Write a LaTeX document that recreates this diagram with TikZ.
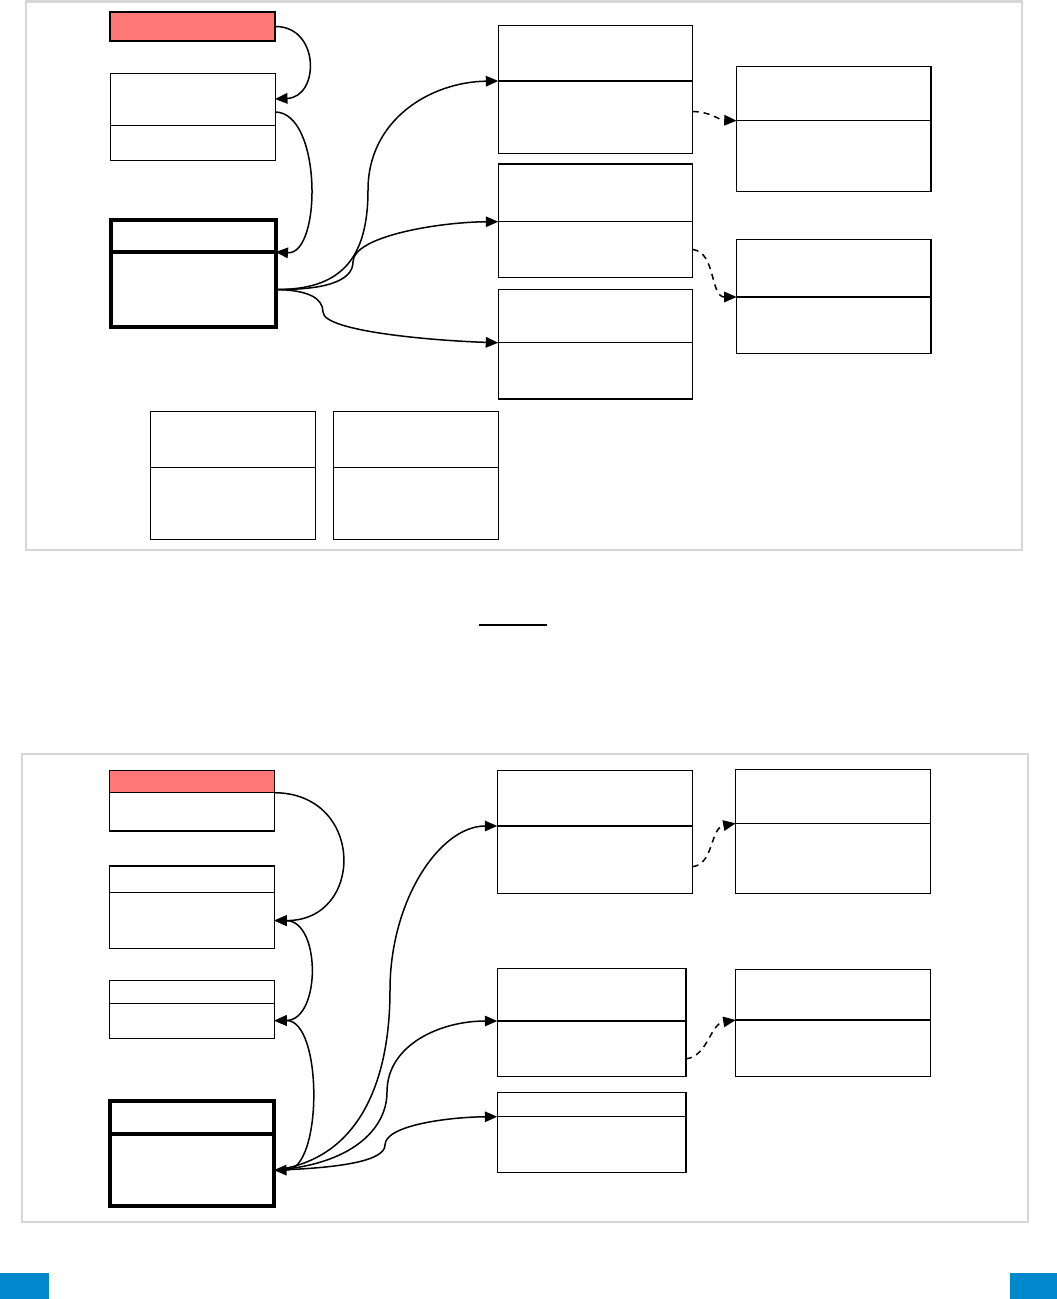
\documentclass[tikz,border=0pt]{standalone}
\usetikzlibrary{arrows.meta, calc}

\definecolor{PanelGray}{RGB}{214, 214, 214}
\definecolor{HeaderRed}{RGB}{255, 119, 119}
\definecolor{CornerBlue}{RGB}{0, 136, 204}

\tikzset{
  cell/.style={draw, rectangle, anchor=north west, inner sep=0pt, outer sep=0pt, line width=1.5pt, fill=white},
  hdr/.style={cell, fill=HeaderRed},
  slim/.style={line width=1pt},
  heavy/.style={line width=4pt},
  link/.style={-{Triangle[length=12.5pt, width=10.5pt]}, line width=1.5pt},
  linkboth/.style={{Triangle[length=12.5pt, width=10.5pt]}-{Triangle[length=12.5pt, width=10.5pt]}, line width=1.5pt},
  dep/.style={link, dash pattern=on 6pt off 5pt},
  panel/.style={draw=PanelGray, line width=2.5pt}
}

\begin{document}
\begin{tikzpicture}[x=1pt, y=-1pt]
    \useasboundingbox (0,0) rectangle (1057,1299);

    % Panels
    \draw[panel] (26,1.5) rectangle (1022,550);
    \draw[panel] (22,754) rectangle (1028,1222);
    \draw[line width=1.3pt] (479,625) -- (547,625);
    \fill[CornerBlue] (0,1273) rectangle (49,1299);
    \fill[CornerBlue] (1010,1273) rectangle (1057,1299);

    % ---- top panel ----
    % Root
    \node[hdr, minimum width=165, minimum height=29] (aBox) at (110,12) {};

    % Parent
    \node[cell, slim, minimum width=165, minimum height=52] (bHead) at (110,73) {};
    \node[cell, slim, minimum width=165, minimum height=35] (bBody) at (bHead.south west) {};

    % Current
    \node[cell, heavy, minimum width=165, minimum height=32.5] (cHead) at (110.5,219.5) {};
    \node[cell, heavy, minimum width=165, minimum height=75] (cBody) at (cHead.south west) {};

    % Children
    \node[cell, minimum width=194.4, minimum height=55.3] (dHead) at (498.3,25.7) {};
    \node[cell, minimum width=194.4, minimum height=72.7] (dBody) at (dHead.south west) {};

    \node[cell, minimum width=194.4, minimum height=57.7] (eHead) at (498.3,164) {};
    \node[cell, minimum width=194.4, minimum height=55.6] (eBody) at (eHead.south west) {};

    \node[cell, minimum width=194.4, minimum height=53.4] (fHead) at (498.3,289.3) {};
    \node[cell, minimum width=194.4, minimum height=56.3] (fBody) at (fHead.south west) {};

    % Grandchildren
    \node[cell, minimum width=194.3, minimum height=54] (gHead) at (736.7,66.7) {};
    \node[cell, minimum width=194.3, minimum height=71] (gBody) at (gHead.south west) {};

    \node[cell, minimum width=194.3, minimum height=57.7] (hHead) at (736.7,239.3) {};
    \node[cell, minimum width=194.3, minimum height=56.3] (hBody) at (hHead.south west) {};

    % Loose
    \node[cell, line width=1.2pt, minimum width=164.6, minimum height=55.6] (iHead) at (150.7,411.7) {};
    \node[cell, line width=1.2pt, minimum width=164.6, minimum height=72] (iBody) at (iHead.south west) {};

    \node[cell, line width=1.2pt, minimum width=165, minimum height=55.6] (jHead) at (333.3,411.7) {};
    \node[cell, line width=1.2pt, minimum width=165, minimum height=72] (jBody) at (jHead.south west) {};

    \draw[link] (aBox.east) .. controls (320,26) and (320,97) .. (bHead.east);
    \draw[link] ($(bHead.east)+(0,13)$) .. controls (322,112) and (322,255) .. (cBody.north east);
    \draw[link] (cBody.east) .. controls (340,290) and (368,260) .. (368,190) .. controls (368,120) and (430,82) .. (dBody.north west);
    \draw[link] (cBody.east) .. controls (322,290) and (353,282) .. (353,262) .. controls (353,236) and (440,222) .. (eBody.north west);
    \draw[link] (cBody.east) .. controls (308,290) and (323,298) .. (323,312) .. controls (323,332) and (440,341) .. (fBody.north west);
    \draw[dep] ($(dBody.north east)!0.42!(dBody.south east)$) .. controls (712,112) and (718,120) .. (gBody.north west);
    \draw[dep] (eBody.east) .. controls (716,252) and (710,297) .. (hBody.north west);

    % ---- bottom panel ----
    % Root
    \node[hdr, minimum width=165, minimum height=22] (kHead) at (109.3,770.7) {};
    \node[cell, minimum width=165, minimum height=38.3] (kBody) at (kHead.south west) {};

    % Parents
    \node[cell, minimum width=165, minimum height=26.3] (lHead) at (109.3,866) {};
    \node[cell, minimum width=165, minimum height=56.4] (lBody) at (lHead.south west) {};

    \node[cell, slim, minimum width=165, minimum height=23] (mHead) at (109.3,980.3) {};
    \node[cell, slim, minimum width=165, minimum height=34.7] (mBody) at (mHead.south west) {};

    % Current
    \node[cell, heavy, minimum width=164.5, minimum height=33.4] (nHead) at (109.5,1100.8) {};
    \node[cell, heavy, minimum width=164.5, minimum height=71.8] (nBody) at (nHead.south west) {};

    % Children
    \node[cell, minimum width=195.4, minimum height=55.3] (oHead) at (497.3,770.7) {};
    \node[cell, minimum width=195.4, minimum height=67.7] (oBody) at (oHead.south west) {};

    \node[cell, minimum width=188.7, minimum height=52.3] (qHead) at (497.3,968.7) {};
    \node[cell, minimum width=188.7, minimum height=55.7] (qBody) at (qHead.south west) {};

    \node[cell, minimum width=188.7, minimum height=24.4] (sHead) at (497.3,1092.3) {};
    \node[cell, minimum width=188.7, minimum height=56] (sBody) at (sHead.south west) {};

    % Grandchildren
    \node[cell, minimum width=195, minimum height=54] (pHead) at (735.7,769.3) {};
    \node[cell, minimum width=195, minimum height=70.4] (pBody) at (pHead.south west) {};

    \node[cell, minimum width=195, minimum height=50.7] (rHead) at (735.7,969.3) {};
    \node[cell, minimum width=195, minimum height=56.7] (rBody) at (rHead.south west) {};

    \draw[link] (kHead.south east) .. controls (365,793) and (365,921) .. (lBody.east);
    \draw[linkboth] (lBody.east) .. controls (321,921) and (321,1020) .. (mBody.east);
    \draw[linkboth] (mBody.east) .. controls (323,1020) and (323,1170) .. (nBody.east);
    \draw[link] (nBody.east) .. controls (360,1160) and (390,1080) .. (390,990) .. controls (390,900) and (440,826) .. (oBody.north west);
    \draw[link] (nBody.east) .. controls (350,1165) and (387,1130) .. (387,1092) .. controls (387,1045) and (440,1021) .. (qBody.north west);
    \draw[link] (nBody.east) .. controls (345,1168) and (385,1160) .. (385,1145) .. controls (385,1125) and (450,1117) .. (sBody.north west);
    \draw[dep] ($(oBody.north east)!0.6!(oBody.south east)$) .. controls (714,864) and (710,828) .. (pBody.north west);
    \draw[dep] ($(qBody.north east)!0.68!(qBody.south east)$) .. controls (708,1056) and (710,1024) .. (rBody.north west);
\end{tikzpicture}
\end{document}
